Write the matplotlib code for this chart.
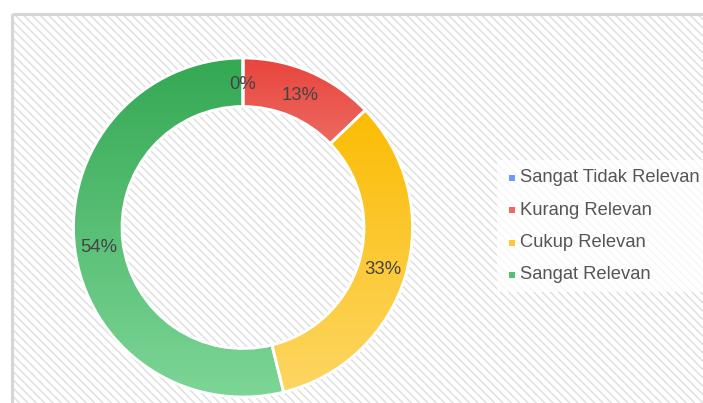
import numpy as np
import matplotlib
matplotlib.use("Agg")
import matplotlib.pyplot as plt
from matplotlib.patches import Rectangle
from matplotlib.colors import LinearSegmentedColormap
import matplotlib.transforms as mtransforms

categories = ["Sangat Tidak Relevan", "Kurang Relevan", "Cukup Relevan", "Sangat Relevan"]
values = [0, 5, 13, 21]
top_colors = ["#4285f4", "#e8453c", "#fbbc04", "#34a853"]
bottom_colors = ["#8ab4f8", "#f28b84", "#fdd663", "#7dd697"]
legend_colors = ["#6a9ef6", "#ec6a62", "#fcc83a", "#57c073"]

plt.rcParams['font.family'] = ['Liberation Sans', 'DejaVu Sans']
plt.rcParams['hatch.linewidth'] = 1.1

W, H = 703, 403
fig = plt.figure(figsize=(W / 100, H / 100), dpi=100)
fig.patch.set_facecolor('white')

# background hatched panel
bg = fig.add_axes([0, 0, 1, 1])
bg.set_xlim(0, W)
bg.set_ylim(H, 0)
bg.axis('off')
bg.add_patch(Rectangle((12, 14), W + 20, H + 20, facecolor='white',
                       edgecolor='#e0e0e0', hatch='\\\\\\\\', linewidth=0))
bg.add_patch(Rectangle((12, 14), W + 20, H + 20, facecolor='none',
                       edgecolor='#d6d6d6', linewidth=2.2))

# donut
cx, cy, R, r_in = 243, 227.5, 169.5, 121
ax = fig.add_axes([(cx - R) / W, (H - cy - R) / H, 2 * R / W, 2 * R / H])
ax.set_facecolor('none')
wedges, texts, autotexts = ax.pie(
    values, startangle=90, counterclock=False, radius=1,
    wedgeprops=dict(width=(R - r_in) / R, edgecolor='white', linewidth=2),
    autopct=lambda p: f"{p:.0f}%", pctdistance=(R + r_in) / 2 / R,
    textprops=dict(color='#444444', fontsize=13.3))

for w, tc, bc in zip(wedges, top_colors, bottom_colors):
    verts = w.get_path().vertices
    if len(verts) == 0:
        continue
    x0, x1 = verts[:, 0].min(), verts[:, 0].max()
    y0, y1 = verts[:, 1].min(), verts[:, 1].max()
    if x1 - x0 < 1e-6:
        w.set_facecolor((0, 0, 0, 0))
        continue
    cmap = LinearSegmentedColormap.from_list('g', [tc, bc])
    grad = np.linspace(0, 1, 256).reshape(-1, 1)
    im = ax.imshow(grad, cmap=cmap, extent=(x0, x1, y0, y1), origin='upper',
                   aspect='auto', zorder=w.get_zorder() - 0.1)
    im.set_clip_path(w)
    w.set_facecolor((0, 0, 0, 0))
ax.set_xlim(-1.0, 1.0)
ax.set_ylim(-1.0, 1.0)
ax.set_aspect('equal')
ax.axis('off')
shift = mtransforms.ScaledTranslation(0, -1.5 / 72, fig.dpi_scale_trans)
for t in autotexts:
    t.set_zorder(10)
    t.set_transform(t.get_transform() + shift)

# legend
bg.add_patch(Rectangle((497, 160), 210, 132, facecolor='white', alpha=0.75,
                       edgecolor='none', zorder=5))
for i, (lab, col) in enumerate(zip(categories, legend_colors)):
    y = 178 + i * 32.3
    bg.add_patch(Rectangle((509, y - 3), 6, 6, facecolor=col, edgecolor='none', zorder=6))
    bg.text(520, y, lab, fontsize=13.2, color='#555555', va='center', ha='left', zorder=6)

fig.savefig('out.png', dpi=100)
